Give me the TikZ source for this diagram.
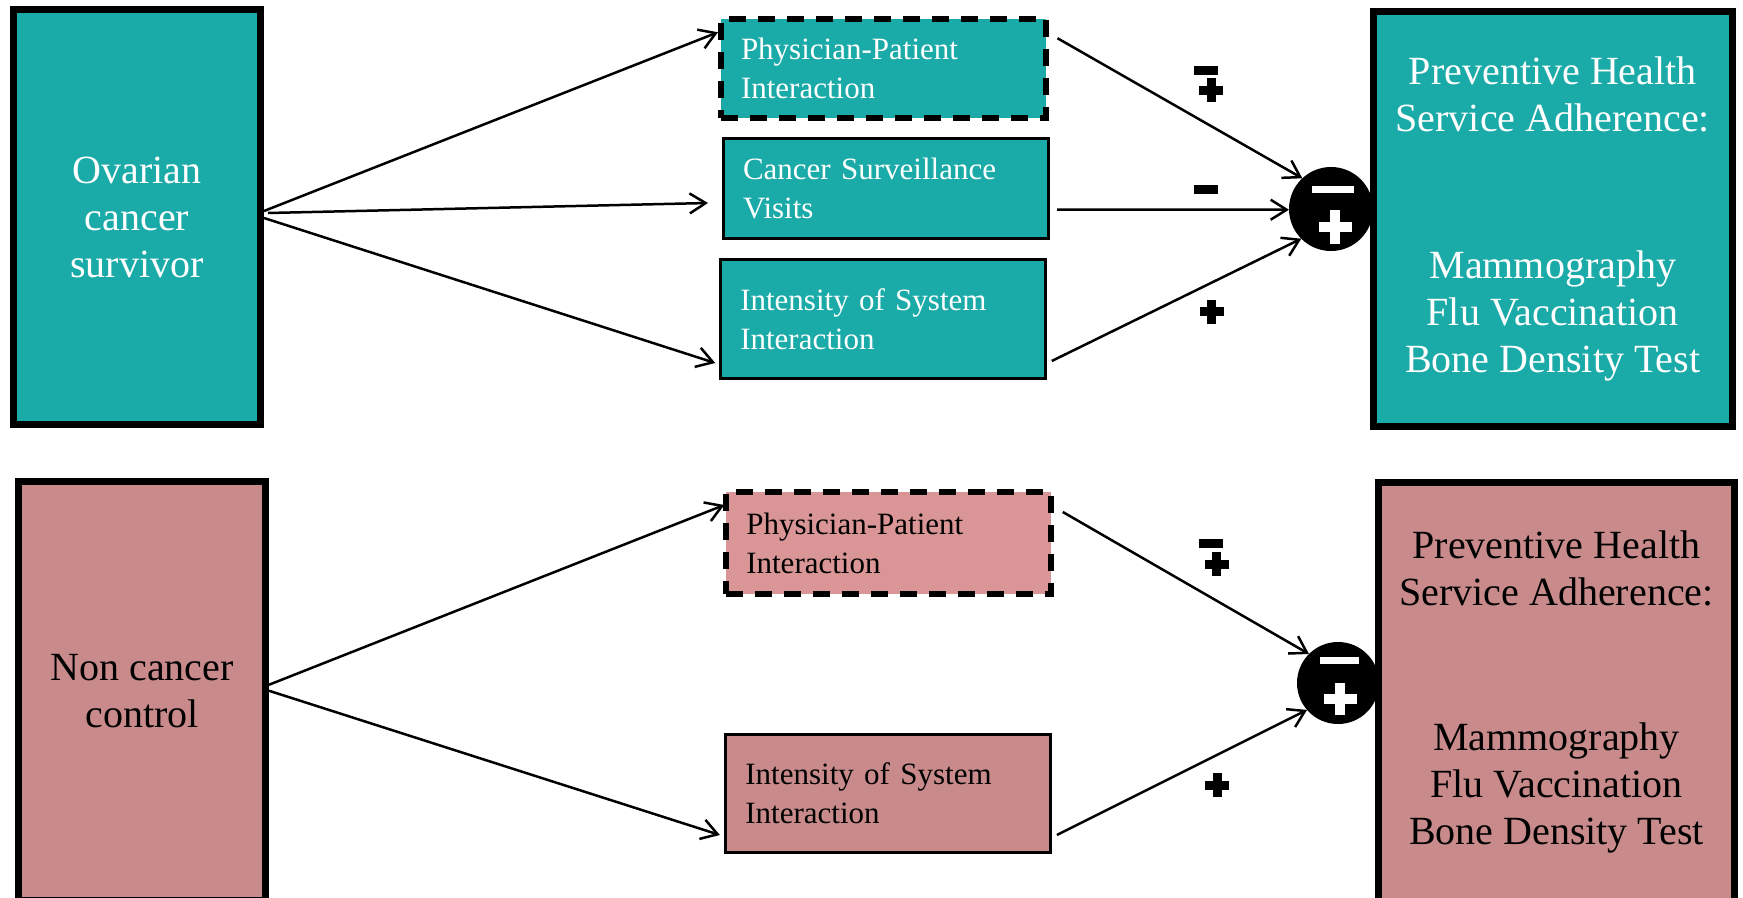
\documentclass[tikz,border=0pt]{standalone}
\usepackage{fontspec}
\setmainfont{Liberation Serif}
\usetikzlibrary{arrows.meta}
\definecolor{tealfill}{HTML}{1AAAA8}
\definecolor{rosefill}{HTML}{C88A8A}
\definecolor{roselight}{HTML}{DA9696}
\tikzset{
  bigbox/.style={draw=black, line width=7pt, inner sep=0pt, align=center,
    font=\fontsize{40}{47}\selectfont},
  midbox/.style={draw=black, line width=3pt, inner xsep=20pt, inner ysep=0pt,
    text width=285pt, align=left, font=\fontsize{31}{39}\selectfont},
  dashbox/.style={midbox, line width=6pt, dash pattern=on 17pt off 12pt},
  conn/.style={line width=2.5pt, -{Straight Barb[length=16pt,width=20pt]}},
  signdot/.style={circle, fill=black, inner sep=0pt, outer sep=0pt},
  pics/plusshape/.style={code={
    \fill (-12,-4.5) rectangle (12,4.5);
    \fill (-4.5,-12) rectangle (4.5,12);}},
  pics/minusshape/.style={code={
    \fill (-12,-4.5) rectangle (12,4.5);}}
}
\begin{document}
\begin{tikzpicture}[x=1pt,y=-1pt]
\useasboundingbox (0,0) rectangle (1743,897);

% ---- top row ----
\node[bigbox, fill=tealfill, text=white, minimum width=247pt, minimum height=415pt]
  (tl) at (137,217) {Ovarian\\cancer\\survivor};
\node[bigbox, fill=tealfill, text=white, minimum width=358.5pt, minimum height=415pt]
  (tr) at (1552.75,219) {Preventive Health\\Service Adherence:\\[53pt]\\Mammography\\Flu Vaccination\\Bone Density Test};

\node[dashbox, fill=tealfill, text=white, minimum height=99.5pt]
  (pp1) at (883.5,68.25) {Physician-Patient\\Interaction};
\node[midbox, fill=tealfill, text=white, minimum height=100pt]
  (cs) at (885.5,188) {Cancer Surveillance\\Visits};
\node[midbox, fill=tealfill, text=white, minimum height=119pt]
  (is1) at (882.75,319) {Intensity of System\\Interaction};

\node[signdot, minimum size=84pt] (c1) at (1331,209) {};
\begin{scope}[shift={(c1.center)}]
  \fill[white] (-19,-23) rectangle (23,-16);
  \fill[white] (-12.5,13) rectangle (20.5,23);
  \fill[white] (-1,1) rectangle (9,35);
\end{scope}

\draw[conn] ([yshift=6pt]tl.east) -- ([yshift=36pt]pp1.west);
\draw[conn] ([xshift=4pt,yshift=4pt]tl.east) -- ([xshift=-13.5pt,yshift=-15pt]cs.west);
\draw[conn] ([yshift=-1pt]tl.east) -- ([xshift=-3.5pt,yshift=-44pt]is1.west);

\draw[conn] ([xshift=8.5pt,yshift=30pt]pp1.east) -- (c1.133);
\draw[conn] ([xshift=7.5pt,yshift=-21.5pt]cs.east) -- (c1.181);
\draw[conn] ([xshift=5pt,yshift=-42pt]is1.east) -- (c1.225);

\pic at (1206,70.5) {minusshape};
\pic at (1211,90) {plusshape};
\pic at (1206,189.5) {minusshape};
\pic at (1211.5,311.5) {plusshape};

% ---- bottom row ----
\node[bigbox, fill=rosefill, text=black, minimum width=247pt, minimum height=418.5pt]
  (bl) at (142,690.75) {Non cancer\\control};
\node[bigbox, fill=rosefill, text=black, minimum width=356pt, minimum height=418.5pt]
  (br) at (1556.5,692) {Preventive Health\\Service Adherence:\\[51pt]\\Mammography\\Flu Vaccination\\Bone Density Test};

\node[dashbox, fill=roselight, text=black, minimum height=102pt]
  (pp2) at (888.8,543) {Physician-Patient\\Interaction};
\node[midbox, fill=rosefill, text=black, minimum height=118pt]
  (is2) at (887.9,793) {Intensity of System\\Interaction};

\node[signdot, minimum size=82pt] (c2) at (1338,683) {};
\begin{scope}[shift={(c2.center)}]
  \fill[white] (-18,-26) rectangle (21,-19);
  \fill[white] (-14.5,11) rectangle (18.5,21);
  \fill[white] (-3,0) rectangle (7,32);
\end{scope}

\draw[conn] ([yshift=6pt]bl.east) -- ([xshift=1pt,yshift=38pt]pp2.west);
\draw[conn] (bl.east) -- ([xshift=-4pt,yshift=-42pt]is2.west);

\draw[conn] ([xshift=8.5pt,yshift=31pt]pp2.east) -- (c2.135);
\draw[conn] ([xshift=5pt,yshift=-42pt]is2.east) -- (c2.221);

\pic at (1211,543.5) {minusshape};
\pic at (1216.5,564) {plusshape};
\pic at (1217,785) {plusshape};
\end{tikzpicture}
\end{document}
